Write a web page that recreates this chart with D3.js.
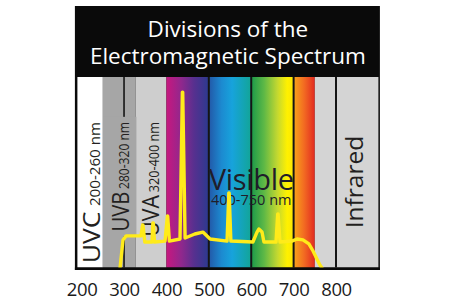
<!DOCTYPE html>
<html><head><meta charset="utf-8">
<script src="https://cdn.jsdelivr.net/npm/d3@7"></script>
<style>html,body{margin:0;padding:0;background:#fff;}svg{display:block;}</style>
</head><body>
<svg id="c" width="452" height="301"></svg>
<script>
// ---- data ----
const titleLines = ["Divisions of the", "Electromagnetic Spectrum"];
const bandEdges = [190, 250, 327, 400, 500, 600, 700, 750, 800, 900];
const bandNames = ["uvc", "uvb", "uva", "violet", "blue", "green", "red", "nir", "ir"];
const dividers = [500, 600, 700, 800];
const uvbLine = [300];
const tickValues = [200, 300, 400, 500, 600, 700, 800];
const lampWavelength = [290.6, 297.6, 304.7, 340, 343.8, 344.6, 349, 366, 368, 369, 372, 396.7, 402.2, 403, 407, 432, 437.6, 438.4, 444, 467, 486, 503, 543, 547.2, 548, 552, 604, 613.7, 618, 625.5, 630, 658.5, 662.6, 663.4, 668, 696, 708, 722, 736, 745.8, 755, 762, 767];
const lampIntensity = [0, 14.7, 16.8, 16.8, 22.5, 22.5, 13.6, 13.6, 23.6, 23.6, 13.6, 14.1, 27.2, 27.2, 14.1, 15.2, 92.1, 92.1, 15.7, 17.8, 18.8, 15.2, 14.1, 39.3, 39.3, 14.1, 13.6, 18.8, 20.4, 18.8, 13.6, 13.6, 28.3, 28.3, 13.6, 14.1, 15.2, 14.7, 12.6, 8.9, 4.7, 1.6, 0];
const uvLabels = [
  {big: "UVC", small: "200-260 nm"},
  {big: "UVB", small: "280-320 nm"},
  {big: "UVA", small: "320-400 nm"}
];

(function () {
// ---- scales ----
const x = d3.scaleLinear().domain([190, 900]).range([77.4, 378.4]);
const y = d3.scaleLinear().domain([0, 100]).range([268, 77]);

const svg = d3.select("#c");
const defs = svg.append("defs");
const grads = {
  violet: [[0, "#c8177f"], [0.35, "#90288d"], [0.65, "#57308f"], [1, "#2b3a8f"]],
  blue: [[0, "#2258a8"], [0.3, "#1c8ad0"], [0.55, "#17a3dc"], [1, "#12a597"]],
  green: [[0, "#1b994a"], [0.3, "#5db846"], [0.62, "#c4d830"], [0.85, "#fff100"], [1, "#fde600"]],
  red: [[0, "#f8a51a"], [0.5, "#f26a22"], [1, "#e22a20"]]
};
Object.entries(grads).forEach(([k, stops]) => {
  const g = defs.append("linearGradient").attr("id", "g-" + k).attr("x1", 0).attr("x2", 1).attr("y1", 0).attr("y2", 0);
  stops.forEach(s => g.append("stop").attr("offset", s[0]).attr("stop-color", s[1]));
});
const fills = {uvc: "#ffffff", uvb: "#a6a6a6", uva: "#cecece", violet: "url(#g-violet)", blue: "url(#g-blue)", green: "url(#g-green)", red: "url(#g-red)", nir: "#d4d4d4", ir: "#d4d4d4"};

const yTop = 77, yBot = 267.5;
// frame
svg.append("rect").attr("x", x(190) - 2.5).attr("y", 6).attr("width", x(900) - x(190) + 4).attr("height", 264).attr("fill", "#0a0a0a");

// bands
svg.append("g").selectAll("rect").data(bandNames).join("rect")
  .attr("x", (d, i) => x(bandEdges[i]))
  .attr("width", (d, i) => x(bandEdges[i + 1]) - x(bandEdges[i]))
  .attr("y", yTop).attr("height", yBot - yTop)
  .attr("fill", d => fills[d]);

// dividers
svg.append("g").selectAll("line").data(dividers).join("line")
  .attr("x1", d => x(d)).attr("x2", d => x(d)).attr("y1", yTop).attr("y2", yBot)
  .attr("stroke", "#151515").attr("stroke-width", 2);
svg.append("g").selectAll("line").data(uvbLine).join("line")
  .attr("x1", d => x(d)).attr("x2", d => x(d)).attr("y1", yTop).attr("y2", yBot)
  .attr("stroke", "#151515").attr("stroke-width", 1.6);

// title
svg.append("g").selectAll("text").data(titleLines).join("text")
  .attr("x", (x(190) + x(900)) / 2).attr("y", (d, i) => 37 + i * 26.5)
  .attr("text-anchor", "middle").attr("fill", "#fff")
  .attr("font-family", "Open Sans, sans-serif").attr("font-size", 22.5)
  .text(d => d);

// UV labels (rotated, fitted to the lengths seen in the reference)
const baseX = [100, 129, 159];
const bigSize = [24.5, 23.5, 23.5];
const gap = [5, 3, 3];
const fitLen = [136, 107, 112];
const labelLayer = svg.append("g");
uvLabels.forEach((d, i) => {
  const t = labelLayer.append("text")
    .attr("text-anchor", "end").attr("fill", "#231f20")
    .attr("font-family", "Open Sans, sans-serif");
  t.append("tspan").attr("font-size", bigSize[i]).text(d.big);
  t.append("tspan").attr("font-size", 14).attr("dx", gap[i]).text(d.small);
  const len = t.node().getComputedTextLength();
  const sx = fitLen[i] / len;
  const tr = `translate(${baseX[i]},122) rotate(-90) scale(${sx},1)`;
  t.attr("transform", tr);
  if (i === 1) {
    const bb = t.node().getBBox();
    labelLayer.insert("rect", "text")
      .attr("transform", tr)
      .attr("x", bb.x - 6).attr("y", bb.y - 1).attr("width", bb.width + 12).attr("height", bb.height + 2)
      .attr("fill", fills.uvb);
  }
});

// Visible label
svg.append("text").attr("x", x(600)).attr("y", 190).attr("text-anchor", "middle")
  .attr("font-family", "Open Sans, sans-serif").attr("font-size", 29).attr("letter-spacing", -0.3)
  .attr("fill", "#1f1d2a").text("Visible");
svg.append("text").attr("x", x(600)).attr("y", 205).attr("text-anchor", "middle")
  .attr("font-family", "Open Sans, sans-serif").attr("font-size", 14.5).attr("fill", "#1f1d2a").text("400-750 nm");

// Infrared
svg.append("text").attr("transform", `translate(363,182) rotate(-90)`)
  .attr("text-anchor", "middle").attr("font-family", "Open Sans, sans-serif").attr("font-size", 24.5)
  .attr("fill", "#231f20").text("Infrared");

// lamp spectrum
const pts = lampWavelength.map((w, i) => [w, lampIntensity[i]]);
svg.append("path").datum(pts)
  .attr("d", d3.line().x(d => x(d[0])).y(d => y(d[1])).curve(d3.curveLinear))
  .attr("fill", "none").attr("stroke", "#ffeb1a").attr("stroke-width", 3.4)
  .attr("stroke-linejoin", "round").attr("stroke-linecap", "round");

// bottom border over the spectrum
svg.append("rect").attr("x", x(190) - 2.5).attr("y", yBot).attr("width", x(900) - x(190) + 4).attr("height", 270 - yBot).attr("fill", "#0a0a0a");

// axis tick labels
const axis = d3.axisBottom(x).tickValues(tickValues).tickSize(0).tickPadding(0).tickFormat(d3.format("d"));
const ag = svg.append("g").attr("transform", "translate(0,283)").call(axis);
ag.select(".domain").remove();
ag.selectAll("text").attr("font-family", "Open Sans, sans-serif").attr("font-size", 18.5)
  .attr("letter-spacing", -0.4).attr("fill", "#1a1a1a").attr("dy", "0.71em");
})();
</script>
</body></html>
